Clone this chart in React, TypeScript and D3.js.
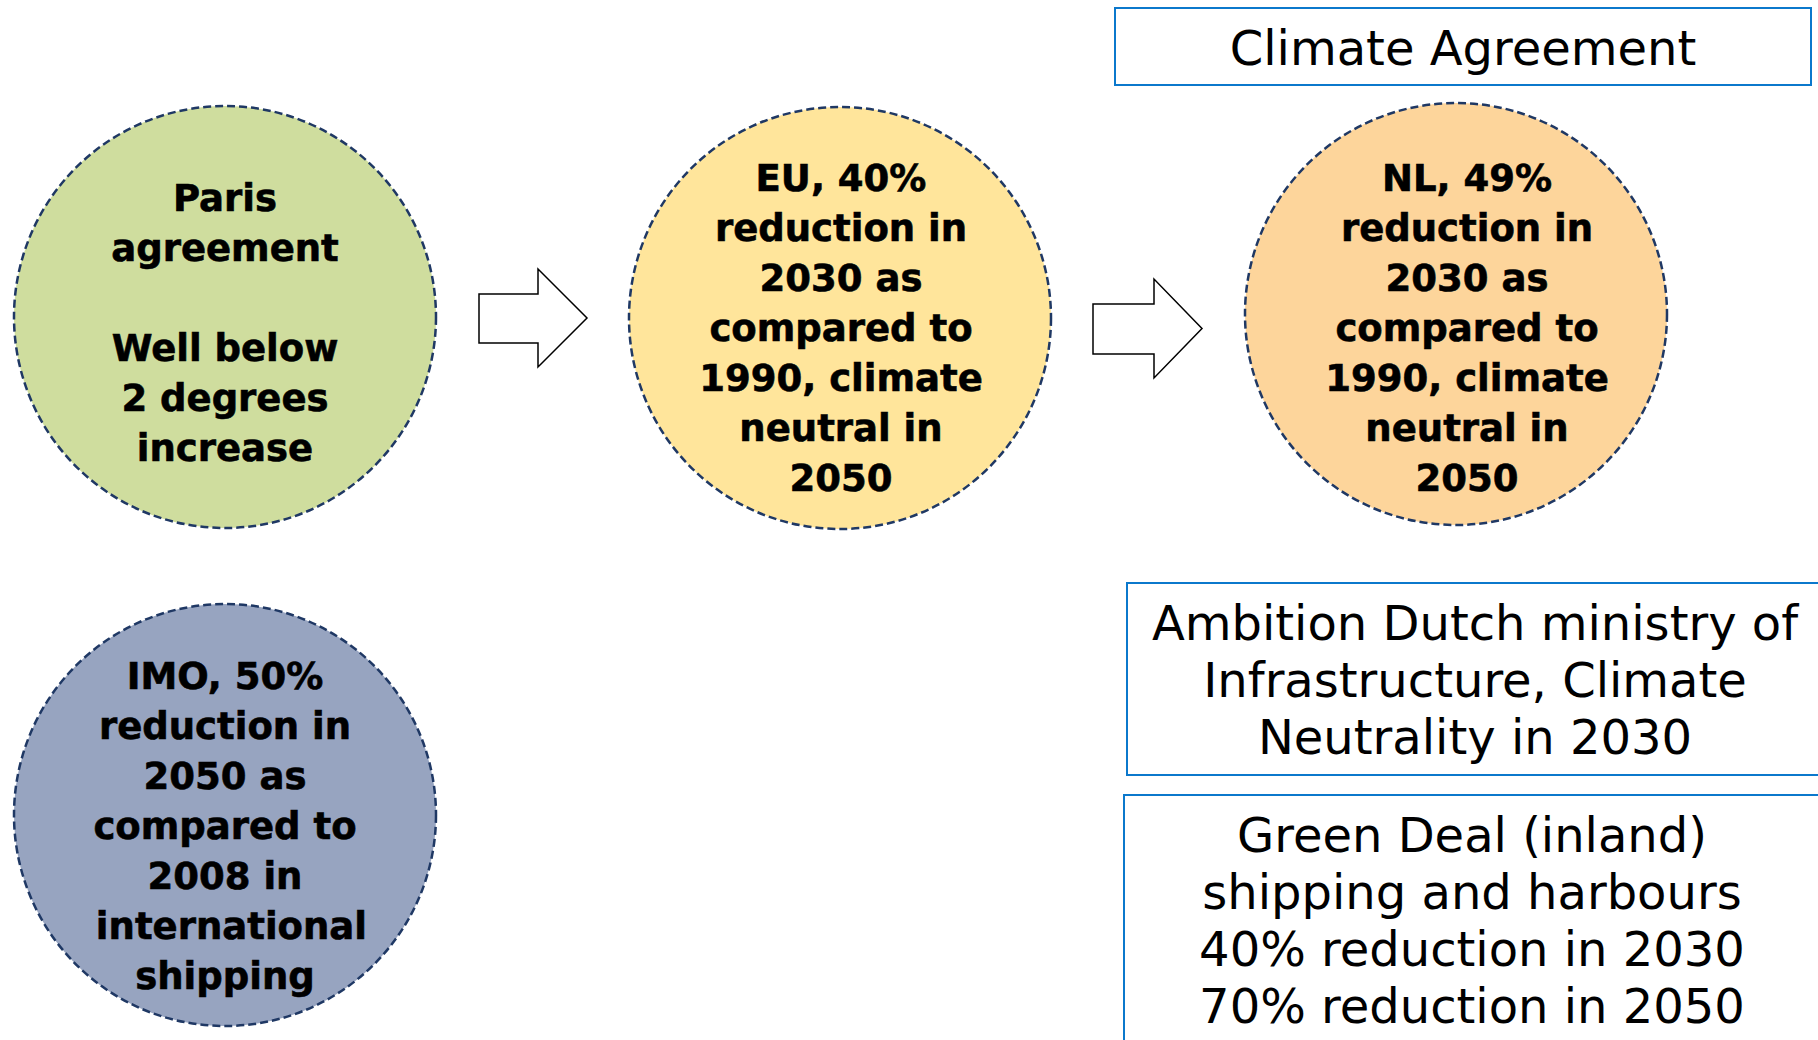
import React, { useRef, useEffect } from 'react';
import * as d3 from 'd3';

// circle labels (one entry per line, "" = blank line)
const circleNames = ['paris', 'eu', 'nl', 'imo'];
const circleFills = ['#CFDD9E', '#FFE59B', '#FDD59B', '#97A4C0'];
const circleLines = [
  ['Paris', 'agreement', '', 'Well below', '2 degrees', 'increase'],
  ['EU, 40%', 'reduction in', '2030 as', 'compared to', '1990, climate', 'neutral in', '2050'],
  ['NL, 49%', 'reduction in', '2030 as', 'compared to', '1990, climate', 'neutral in', '2050'],
  ['IMO, 50%', 'reduction in', '2050 as', 'compared to', '2008 in', ' international', 'shipping'],
];

// boxed statements on the right
const boxNames = ['climate', 'ministry', 'greendeal'];
const boxLines = [
  ['Climate Agreement'],
  ['Ambition Dutch ministry of', 'Infrastructure, Climate', 'Neutrality in 2030'],
  ['Green Deal (inland)', 'shipping and harbours', '40% reduction in 2030', '70% reduction in 2050'],
];

const W = 1818;
const H = 1040;

// layout (pixels)
const circleLayout: Record<string, { cx: number; cy: number; tx: number; y0: number }> = {
  paris: { cx: 225, cy: 317, tx: 225, y0: 211 },
  eu: { cx: 840, cy: 318, tx: 841, y0: 191 },
  nl: { cx: 1456, cy: 314, tx: 1467, y0: 191 },
  imo: { cx: 225, cy: 815, tx: 225, y0: 689 },
};
const R = 211;
const circleLineH = 50;

const boxLayout: Record<string, { x: number; y: number; w: number; h: number; tx: number; y0: number }> = {
  climate: { x: 1115, y: 8, w: 696, h: 77, tx: 1463, y0: 65 },
  ministry: { x: 1127, y: 583, w: 700, h: 192, tx: 1475, y0: 640 },
  greendeal: { x: 1124, y: 795, w: 700, h: 300, tx: 1472, y0: 852 },
};
const boxLineH = 57;

const arrows = [
  { x0: 479, x1: 538, x2: 587, sTop: 294, sBot: 343, hTop: 269, hBot: 367 },
  { x0: 1093, x1: 1154, x2: 1202, sTop: 304, sBot: 354, hTop: 279, hBot: 378 },
];

const App: React.FC = () => {
  const svgRef = useRef<SVGSVGElement>(null);

  useEffect(() => {
    if (!svgRef.current) return;
    const svg = d3.select(svgRef.current);
    svg.selectAll('*').remove();

    svg.append('rect').attr('width', W).attr('height', H).attr('fill', '#ffffff');

    // circles
    circleNames.forEach((name, i) => {
      const c = circleLayout[name];
      const g = svg.append('g');
      g.append('circle')
        .attr('cx', c.cx)
        .attr('cy', c.cy)
        .attr('r', R)
        .attr('fill', circleFills[i])
        .attr('stroke', '#1F3864')
        .attr('stroke-width', 2.5)
        .attr('stroke-dasharray', '8,4');

      circleLines[i].forEach((line, j) => {
        if (!line) return;
        g.append('text')
          .attr('x', c.tx)
          .attr('y', c.y0 + j * circleLineH)
          .attr('text-anchor', 'middle')
          .style('font-family', '"DejaVu Sans", sans-serif')
          .style('font-weight', 'bold')
          .style('font-size', '37px')
          .style('white-space', 'pre')
          .style('fill', '#000')
          .style('stroke', '#000')
          .style('stroke-width', 0.6)
          .text(line);
      });
    });

    // block arrows
    const line = d3.line();
    arrows.forEach(a => {
      const yMid = (a.hTop + a.hBot) / 2;
      const pts: [number, number][] = [
        [a.x0, a.sTop], [a.x1, a.sTop], [a.x1, a.hTop], [a.x2, yMid],
        [a.x1, a.hBot], [a.x1, a.sBot], [a.x0, a.sBot],
      ];
      svg.append('path')
        .attr('d', line(pts) + 'Z')
        .attr('fill', '#ffffff')
        .attr('stroke', '#000')
        .attr('stroke-width', 1.5)
        .attr('stroke-linejoin', 'miter');
    });

    // boxes
    boxNames.forEach((name, i) => {
      const b = boxLayout[name];
      const g = svg.append('g');
      g.append('rect')
        .attr('x', b.x)
        .attr('y', b.y)
        .attr('width', b.w)
        .attr('height', b.h)
        .attr('fill', '#ffffff')
        .attr('stroke', '#0B78CC')
        .attr('stroke-width', 2);
      boxLines[i].forEach((t, j) => {
        g.append('text')
          .attr('x', b.tx)
          .attr('y', b.y0 + j * boxLineH)
          .attr('text-anchor', 'middle')
          .style('font-family', '"DejaVu Sans", sans-serif')
          .style('font-size', '48px')
          .style('fill', '#000')
          .text(t);
      });
    });
  }, []);

  return (
    <svg
      ref={svgRef}
      width={W}
      height={H}
      style={{ position: 'absolute', left: 0, top: 0, display: 'block' }}
    />
  );
};

export default App;
